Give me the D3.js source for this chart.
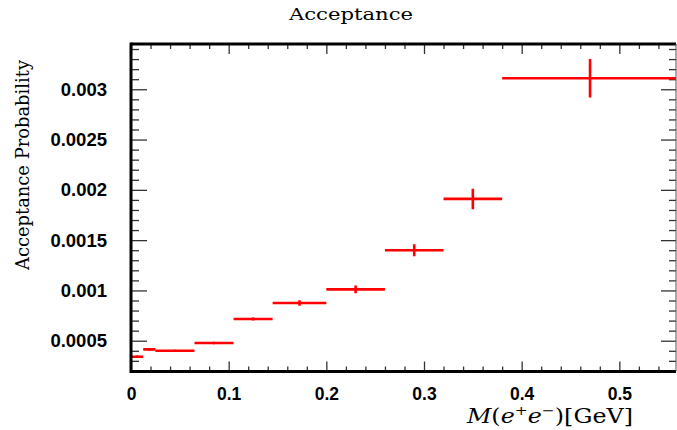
<!DOCTYPE html>
<html>
<head>
<meta charset="utf-8">
<script src="https://cdn.jsdelivr.net/npm/d3@7"></script>
<style>
  body { margin: 0; background: #fff; }
  svg { display: block; }
</style>
</head>
<body>
<script>
// ---- data ----
const binEdges = [0, 0.0125, 0.025, 0.065, 0.105, 0.145, 0.2, 0.26, 0.32, 0.38, 0.56];
const values   = [0.00034, 0.000414, 0.0004, 0.000477, 0.000716, 0.000875, 0.00101, 0.0014, 0.00191, 0.00311];
const errors   = [0.000008, 0.000008, 0.000006, 0.000008, 0.00001, 0.000022, 0.000033, 0.000055, 0.000097, 0.000186];
const xTickValues = [0, 0.1, 0.2, 0.3, 0.4, 0.5];
const xTickLabels = ["0", "0.1", "0.2", "0.3", "0.4", "0.5"];
const yTickValues = [0.0005, 0.001, 0.0015, 0.002, 0.0025, 0.003];
const yTickLabels = ["0.0005", "0.001", "0.0015", "0.002", "0.0025", "0.003"];
const titleText = "Acceptance";
const yTitle = "Acceptance Probability";

// ---- layout ----
const W = 677, H = 430;
const L = 131, R = 676, T = 44, B = 371.5;

const x = d3.scaleLinear().domain([0, 0.558]).range([L, R]);
const y = d3.scaleLinear().domain([0.000194, 0.00345]).range([B, T]);

const svg = d3.select("body").append("svg").attr("width", W).attr("height", H);

svg.append("defs").append("clipPath").attr("id", "clip")
  .append("rect").attr("x", L).attr("y", T).attr("width", R - L).attr("height", B - T);

const tickFont = "'Liberation Sans', Arial, sans-serif";
const serif = "'DejaVu Serif', 'Liberation Serif', serif";

const xMinor = d3.range(0, 0.56, 0.02).filter(v => Math.abs(v*10 - Math.round(v*10)) > 1e-6);
const yMinor = d3.range(0.0002, 0.00345, 0.0001).filter(v => Math.abs(v*2000 - Math.round(v*2000)) > 1e-6);

const tickColor = "#333";

function styleAxis(g) {
  g.select(".domain").remove();
  g.selectAll(".tick line").attr("stroke", tickColor).attr("stroke-width", 1.3);
}

// bottom axis (ticks inward)
svg.append("g").attr("transform", `translate(0,${B})`)
  .call(d3.axisBottom(x).tickValues(xTickValues).tickSize(-10).tickPadding(16)
        .tickFormat((d, i) => xTickLabels[i]))
  .call(styleAxis)
  .call(g => g.selectAll("text").attr("font-family", tickFont).attr("font-weight", "bold")
        .attr("font-size", 17.5).attr("fill", "#000"));
svg.append("g").attr("transform", `translate(0,${B})`)
  .call(d3.axisBottom(x).tickValues(xMinor).tickSize(-5).tickFormat(""))
  .call(styleAxis);
// top axis (mirror)
svg.append("g").attr("transform", `translate(0,${T})`)
  .call(d3.axisTop(x).tickValues(xTickValues).tickSize(-10).tickFormat(""))
  .call(styleAxis);
svg.append("g").attr("transform", `translate(0,${T})`)
  .call(d3.axisTop(x).tickValues(xMinor).tickSize(-5).tickFormat(""))
  .call(styleAxis);

// left axis
svg.append("g").attr("transform", `translate(${L},0)`)
  .call(d3.axisLeft(y).tickValues(yTickValues).tickSize(-16).tickPadding(24)
        .tickFormat((d, i) => yTickLabels[i]))
  .call(styleAxis)
  .call(g => g.selectAll("text").attr("font-family", tickFont).attr("font-weight", "bold")
        .attr("font-size", 18.5).attr("fill", "#000"));
svg.append("g").attr("transform", `translate(${L},0)`)
  .call(d3.axisLeft(y).tickValues(yMinor).tickSize(-8).tickFormat(""))
  .call(styleAxis);
// right axis (mirror)
svg.append("g").attr("transform", `translate(${R},0)`)
  .call(d3.axisRight(y).tickValues(yTickValues).tickSize(-15).tickFormat(""))
  .call(styleAxis);
svg.append("g").attr("transform", `translate(${R},0)`)
  .call(d3.axisRight(y).tickValues(yMinor).tickSize(-7).tickFormat(""))
  .call(styleAxis);

// data: horizontal bin bars and vertical error bars
const bins = values.map((v, i) => ({ x0: binEdges[i], x1: binEdges[i + 1], v, e: errors[i] }));
const marks = svg.append("g").attr("clip-path", "url(#clip)");
marks.selectAll("line.h").data(bins).join("line").attr("class", "h")
  .attr("x1", d => x(d.x0)).attr("x2", d => x(d.x1))
  .attr("y1", d => y(d.v)).attr("y2", d => y(d.v))
  .attr("stroke", "#ff0000").attr("stroke-width", 2.6);
marks.selectAll("line.v").data(bins).join("line").attr("class", "v")
  .attr("x1", d => x((d.x0 + d.x1) / 2)).attr("x2", d => x((d.x0 + d.x1) / 2))
  .attr("y1", d => y(d.v - d.e) + 0.5).attr("y2", d => y(d.v + d.e) - 0.5)
  .attr("stroke", "#ff0000").attr("stroke-width", 2.6);

// frame spines
svg.append("line").attr("x1", L).attr("x2", R).attr("y1", B).attr("y2", B)
  .attr("stroke", "#000").attr("stroke-width", 3);
svg.append("line").attr("x1", L).attr("x2", R).attr("y1", T).attr("y2", T)
  .attr("stroke", "#000").attr("stroke-width", 3);
svg.append("line").attr("x1", L).attr("x2", L).attr("y1", T - 1.5).attr("y2", B + 1.5)
  .attr("stroke", "#000").attr("stroke-width", 3);
svg.append("line").attr("x1", R).attr("x2", R).attr("y1", T).attr("y2", B)
  .attr("stroke", "#555").attr("stroke-width", 1);

// titles
svg.append("text").attr("x", 351).attr("y", 20).attr("text-anchor", "middle")
  .attr("font-family", serif).attr("font-size", 17)
  .attr("textLength", 124).attr("lengthAdjust", "spacingAndGlyphs").text(titleText);

svg.append("text").attr("transform", "translate(29,165) rotate(-90)")
  .attr("text-anchor", "middle").attr("font-family", serif).attr("font-size", 18)
  .attr("textLength", 210).attr("lengthAdjust", "spacingAndGlyphs")
  .text(yTitle);

const xt = svg.append("text").attr("x", 633).attr("y", 423).attr("text-anchor", "end")
  .attr("font-family", serif).attr("font-size", 20)
  .attr("textLength", 166).attr("lengthAdjust", "spacingAndGlyphs");
xt.append("tspan").attr("font-style", "italic").text("M");
xt.append("tspan").text("(");
xt.append("tspan").attr("font-style", "italic").text("e");
xt.append("tspan").attr("font-size", 13).attr("dy", -8).text("+");
xt.append("tspan").attr("font-style", "italic").attr("dy", 8).text("e");
xt.append("tspan").attr("font-size", 13).attr("dy", -8).text("−");
xt.append("tspan").attr("dy", 8).text(")[GeV]");
</script>
</body>
</html>
